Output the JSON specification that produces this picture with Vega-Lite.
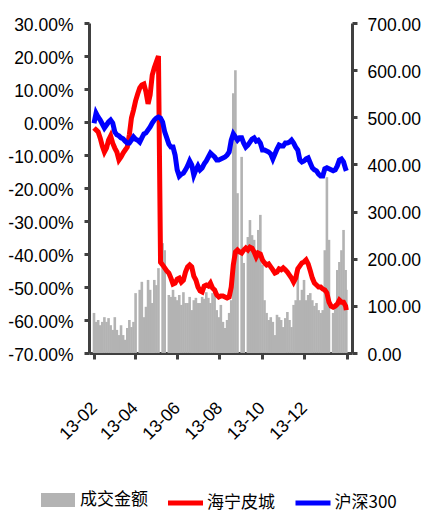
{
  "$schema": "https://vega.github.io/schema/vega-lite/v6.json",
  "autosize": {"type": "none"},
  "padding": {"left": 89, "top": 23, "right": 72, "bottom": 158},
  "width": 263,
  "height": 330,
  "config": {
    "view": {"stroke": null},
    "font": "Liberation Sans",
    "axis": {
      "grid": false,
      "title": null,
      "domainColor": "#404040",
      "domainWidth": 3,
      "tickColor": "#404040",
      "tickWidth": 3,
      "tickSize": 5,
      "labelFont": "Liberation Sans",
      "labelFontSize": 17.5,
      "labelColor": "#000000",
      "labelOverlap": false,
      "labelFlush": false,
      "zindex": 1
    },
    "legend": {
      "labelFont": "Noto Sans CJK SC",
      "labelFontSize": 17,
      "labelColor": "#000000",
      "padding": 0,
      "title": null
    }
  },
  "data": {
    "values": [
      {"date": "2013-02-01", "amt": 85, "海宁皮城": -1.8, "沪深300": -0.4},
      {"date": "2013-02-04", "amt": 66, "海宁皮城": -2.4, "沪深300": 2.7},
      {"date": "2013-02-07", "amt": 70, "海宁皮城": -3.0, "沪深300": 1.5},
      {"date": "2013-02-10", "amt": 59, "海宁皮城": -4.9, "沪深300": 0.6},
      {"date": "2013-02-13", "amt": 66, "海宁皮城": -7.3, "沪深300": -0.6},
      {"date": "2013-02-16", "amt": 76, "海宁皮城": -9.1, "沪深300": -1.8},
      {"date": "2013-02-19", "amt": 66, "海宁皮城": -7.9, "沪深300": -0.9},
      {"date": "2013-02-22", "amt": 74, "海宁皮城": -5.5, "沪深300": 0.0},
      {"date": "2013-02-25", "amt": 59, "海宁皮城": -4.2, "沪深300": 0.6},
      {"date": "2013-02-28", "amt": 49, "海宁皮城": -6.4, "沪深300": -0.3},
      {"date": "2013-03-03", "amt": 76, "海宁皮城": -7.9, "沪深300": -3.0},
      {"date": "2013-03-06", "amt": 49, "海宁皮城": -9.1, "沪深300": -3.9},
      {"date": "2013-03-09", "amt": 38, "海宁皮城": -11.5, "沪深300": -4.2},
      {"date": "2013-03-12", "amt": 59, "海宁皮城": -10.6, "沪深300": -4.8},
      {"date": "2013-03-15", "amt": 38, "海宁皮城": -9.4, "沪深300": -5.1},
      {"date": "2013-03-18", "amt": 28, "海宁皮城": -8.5, "沪深300": -5.8},
      {"date": "2013-03-21", "amt": 53, "海宁皮城": -7.6, "沪深300": -6.4},
      {"date": "2013-03-24", "amt": 70, "海宁皮城": -3.9, "沪深300": -6.4},
      {"date": "2013-03-27", "amt": 55, "海宁皮城": 1.2, "沪深300": -5.5},
      {"date": "2013-03-30", "amt": 66, "海宁皮城": 3.6, "沪深300": -4.5},
      {"date": "2013-04-02", "amt": 127, "海宁皮城": 6.4, "沪深300": -5.2},
      {"date": "2013-04-05", "amt": 0, "海宁皮城": 8.5, "沪深300": -5.5},
      {"date": "2013-04-08", "amt": 134, "海宁皮城": 10.3, "沪深300": -6.1},
      {"date": "2013-04-11", "amt": 151, "海宁皮城": 11.2, "沪深300": -4.8},
      {"date": "2013-04-14", "amt": 76, "海宁皮城": 11.5, "沪深300": -3.6},
      {"date": "2013-04-17", "amt": 98, "海宁皮城": 9.1, "沪深300": -3.3},
      {"date": "2013-04-20", "amt": 155, "海宁皮城": 5.5, "沪深300": -2.4},
      {"date": "2013-04-23", "amt": 134, "海宁皮城": 8.2, "沪深300": -1.5},
      {"date": "2013-04-26", "amt": 106, "海宁皮城": 14.2, "沪深300": -0.3},
      {"date": "2013-04-29", "amt": 155, "海宁皮城": 16.4, "沪深300": 0.6},
      {"date": "2013-05-02", "amt": 144, "海宁皮城": 18.2, "沪深300": 1.2},
      {"date": "2013-05-05", "amt": 180, "海宁皮城": 20.0, "沪深300": 1.5},
      {"date": "2013-05-08", "amt": 0, "海宁皮城": -42.5, "沪深300": 1.2},
      {"date": "2013-05-11", "amt": 233, "海宁皮城": -43.3, "沪深300": 0.0},
      {"date": "2013-05-14", "amt": 218, "海宁皮城": -44.2, "沪深300": -3.0},
      {"date": "2013-05-17", "amt": 0, "海宁皮城": -45.1, "沪深300": -4.8},
      {"date": "2013-05-20", "amt": 123, "海宁皮城": -45.8, "沪深300": -6.7},
      {"date": "2013-05-23", "amt": 119, "海宁皮城": -47.3, "沪深300": -7.6},
      {"date": "2013-05-26", "amt": 134, "海宁皮城": -49.1, "沪深300": -7.6},
      {"date": "2013-05-29", "amt": 119, "海宁皮城": -48.8, "沪深300": -10.0},
      {"date": "2013-06-01", "amt": 112, "海宁皮城": -47.6, "沪深300": -14.5},
      {"date": "2013-06-04", "amt": 123, "海宁皮城": -47.3, "沪深300": -16.4},
      {"date": "2013-06-07", "amt": 102, "海宁皮城": -48.5, "沪深300": -15.8},
      {"date": "2013-06-10", "amt": 129, "海宁皮城": -47.9, "沪深300": -15.5},
      {"date": "2013-06-13", "amt": 106, "海宁皮城": -45.5, "沪深300": -14.5},
      {"date": "2013-06-16", "amt": 106, "海宁皮城": -43.9, "沪深300": -13.3},
      {"date": "2013-06-19", "amt": 119, "海宁皮城": -43.3, "沪深300": -11.8},
      {"date": "2013-06-22", "amt": 91, "海宁皮城": -43.9, "沪深300": -13.0},
      {"date": "2013-06-25", "amt": 112, "海宁皮城": -46.7, "沪深300": -16.1},
      {"date": "2013-06-28", "amt": 117, "海宁皮城": -47.9, "沪深300": -14.5},
      {"date": "2013-07-01", "amt": 106, "海宁皮城": -50.0, "沪深300": -13.3},
      {"date": "2013-07-04", "amt": 106, "海宁皮城": -51.2, "沪深300": -14.5},
      {"date": "2013-07-07", "amt": 119, "海宁皮城": -51.5, "沪深300": -13.9},
      {"date": "2013-07-10", "amt": 115, "海宁皮城": -49.7, "沪深300": -12.7},
      {"date": "2013-07-13", "amt": 129, "海宁皮城": -49.4, "沪深300": -11.8},
      {"date": "2013-07-16", "amt": 117, "海宁皮城": -49.7, "沪深300": -10.6},
      {"date": "2013-07-19", "amt": 106, "海宁皮城": -48.8, "沪深300": -9.4},
      {"date": "2013-07-22", "amt": 127, "海宁皮城": -50.3, "沪深300": -10.0},
      {"date": "2013-07-25", "amt": 134, "海宁皮城": -50.9, "沪深300": -10.6},
      {"date": "2013-07-28", "amt": 91, "海宁皮城": -52.4, "沪深300": -11.5},
      {"date": "2013-07-31", "amt": 76, "海宁皮城": -53.0, "沪深300": -11.5},
      {"date": "2013-08-03", "amt": 102, "海宁皮城": -52.7, "沪深300": -11.2},
      {"date": "2013-08-06", "amt": 66, "海宁皮城": -52.7, "沪深300": -10.9},
      {"date": "2013-08-09", "amt": 53, "海宁皮城": -53.0, "沪深300": -10.6},
      {"date": "2013-08-12", "amt": 70, "海宁皮城": -53.3, "沪深300": -10.0},
      {"date": "2013-08-15", "amt": 85, "海宁皮城": -53.0, "沪深300": -9.1},
      {"date": "2013-08-18", "amt": 112, "海宁皮城": -50.0, "沪深300": -5.5},
      {"date": "2013-08-21", "amt": 551, "海宁皮城": -43.3, "沪深300": -3.6},
      {"date": "2013-08-24", "amt": 600, "海宁皮城": -39.4, "沪深300": -4.5},
      {"date": "2013-08-27", "amt": 339, "海宁皮城": -38.8, "沪深300": -5.5},
      {"date": "2013-08-30", "amt": 0, "海宁皮城": -39.4, "沪深300": -4.8},
      {"date": "2013-09-02", "amt": 416, "海宁皮城": -39.7, "沪深300": -4.8},
      {"date": "2013-09-05", "amt": 191, "海宁皮城": -38.8, "沪深300": -6.4},
      {"date": "2013-09-08", "amt": 0, "海宁皮城": -38.2, "沪深300": -7.6},
      {"date": "2013-09-11", "amt": 246, "海宁皮城": -38.8, "沪深300": -7.0},
      {"date": "2013-09-14", "amt": 282, "海宁皮城": -37.9, "沪深300": -6.1},
      {"date": "2013-09-17", "amt": 250, "海宁皮城": -38.2, "沪深300": -5.2},
      {"date": "2013-09-20", "amt": 240, "海宁皮城": -39.4, "沪深300": -4.8},
      {"date": "2013-09-23", "amt": 218, "海宁皮城": -40.9, "沪深300": -5.8},
      {"date": "2013-09-26", "amt": 261, "海宁皮城": -39.7, "沪深300": -5.5},
      {"date": "2013-09-29", "amt": 293, "海宁皮城": -40.0, "沪深300": -6.4},
      {"date": "2013-10-02", "amt": 187, "海宁皮城": -41.8, "沪深300": -8.5},
      {"date": "2013-10-05", "amt": 112, "海宁皮城": -42.7, "沪深300": -8.5},
      {"date": "2013-10-08", "amt": 85, "海宁皮城": -43.3, "沪深300": -8.8},
      {"date": "2013-10-11", "amt": 70, "海宁皮城": -43.0, "沪深300": -9.1},
      {"date": "2013-10-14", "amt": 76, "海宁皮城": -43.9, "沪深300": -9.7},
      {"date": "2013-10-17", "amt": 66, "海宁皮城": -44.8, "沪深300": -11.2},
      {"date": "2013-10-20", "amt": 38, "海宁皮城": -45.8, "沪深300": -9.7},
      {"date": "2013-10-23", "amt": 81, "海宁皮城": -45.5, "沪深300": -8.2},
      {"date": "2013-10-26", "amt": 76, "海宁皮城": -44.5, "沪深300": -7.0},
      {"date": "2013-10-29", "amt": 70, "海宁皮城": -44.8, "沪深300": -7.3},
      {"date": "2013-11-01", "amt": 55, "海宁皮城": -44.2, "沪深300": -7.3},
      {"date": "2013-11-04", "amt": 74, "海宁皮城": -44.8, "沪深300": -6.4},
      {"date": "2013-11-07", "amt": 87, "海宁皮城": -45.5, "沪深300": -6.4},
      {"date": "2013-11-10", "amt": 70, "海宁皮城": -46.4, "沪深300": -6.1},
      {"date": "2013-11-13", "amt": 55, "海宁皮城": -47.3, "沪深300": -5.5},
      {"date": "2013-11-16", "amt": 102, "海宁皮城": -48.5, "沪深300": -6.4},
      {"date": "2013-11-19", "amt": 112, "海宁皮城": -47.3, "沪深300": -7.6},
      {"date": "2013-11-22", "amt": 176, "海宁皮城": -44.5, "沪深300": -8.5},
      {"date": "2013-11-25", "amt": 112, "海宁皮城": -43.6, "沪深300": -11.5},
      {"date": "2013-11-28", "amt": 134, "海宁皮城": -42.7, "沪深300": -12.1},
      {"date": "2013-12-01", "amt": 155, "海宁皮城": -42.4, "沪深300": -11.8},
      {"date": "2013-12-04", "amt": 112, "海宁皮城": -41.8, "沪深300": -11.2},
      {"date": "2013-12-07", "amt": 123, "海宁皮城": -43.0, "沪深300": -10.9},
      {"date": "2013-12-10", "amt": 127, "海宁皮城": -45.1, "沪深300": -12.4},
      {"date": "2013-12-13", "amt": 112, "海宁皮城": -47.3, "沪深300": -13.9},
      {"date": "2013-12-16", "amt": 100, "海宁皮城": -48.8, "沪深300": -14.5},
      {"date": "2013-12-19", "amt": 106, "海宁皮城": -49.4, "沪深300": -14.8},
      {"date": "2013-12-22", "amt": 91, "海宁皮城": -50.0, "沪深300": -15.8},
      {"date": "2013-12-25", "amt": 85, "海宁皮城": -50.0, "沪深300": -16.4},
      {"date": "2013-12-28", "amt": 91, "海宁皮城": -50.6, "沪深300": -16.4},
      {"date": "2013-12-31", "amt": 218, "海宁皮城": -50.9, "沪深300": -14.2},
      {"date": "2014-01-03", "amt": 373, "海宁皮城": -51.8, "沪深300": -13.9},
      {"date": "2014-01-06", "amt": 240, "海宁皮城": -54.6, "沪深300": -14.2},
      {"date": "2014-01-09", "amt": 0, "海宁皮城": -55.8, "沪深300": -14.5},
      {"date": "2014-01-12", "amt": 85, "海宁皮城": -56.1, "沪深300": -14.8},
      {"date": "2014-01-15", "amt": 106, "海宁皮城": -55.8, "沪深300": -14.5},
      {"date": "2014-01-18", "amt": 176, "海宁皮城": -55.2, "沪深300": -13.3},
      {"date": "2014-01-21", "amt": 193, "海宁皮城": -54.0, "沪深300": -11.5},
      {"date": "2014-01-24", "amt": 218, "海宁皮城": -54.6, "沪深300": -11.2},
      {"date": "2014-01-27", "amt": 261, "海宁皮城": -54.6, "沪深300": -12.1},
      {"date": "2014-01-30", "amt": 176, "海宁皮城": -55.8, "沪深300": -14.2},
      {"date": "2014-01-31", "amt": 134, "海宁皮城": -57.0, "沪深300": -14.8}
    ]
  },
  "encoding": {
    "x": {
      "field": "date",
      "type": "temporal",
      "scale": {
        "type": "utc",
        "domain": [
          {"year": 2013, "month": 2, "date": 1, "utc": true},
          {"year": 2014, "month": 2, "date": 1, "utc": true}
        ]
      },
      "axis": {
        "values": [
          {"year": 2013, "month": 2, "date": 1, "utc": true},
          {"year": 2013, "month": 4, "date": 1, "utc": true},
          {"year": 2013, "month": 6, "date": 1, "utc": true},
          {"year": 2013, "month": 8, "date": 1, "utc": true},
          {"year": 2013, "month": 10, "date": 1, "utc": true},
          {"year": 2013, "month": 12, "date": 1, "utc": true},
          {"year": 2014, "month": 2, "date": 1, "utc": true}
        ],
        "labelExpr": "datum.value > utc(2014,0,1) ? '' : utcFormat(datum.value, '%y-%m')",
        "labelAngle": -45,
        "labelAlign": "right",
        "labelBaseline": "middle",
        "labelPadding": 46,
        "labelOverlap": false,
        "tickSize": 6
      }
    }
  },
  "layer": [
    {
      "mark": {"type": "bar", "width": 2.6, "clip": true},
      "encoding": {
        "y": {
          "field": "amt",
          "type": "quantitative",
          "scale": {"domain": [0, 700], "nice": false},
          "axis": {
            "orient": "right",
            "values": [0, 100, 200, 300, 400, 500, 600, 700],
            "format": ".2f",
            "labelPadding": 10,
            "labelOffset": 2,
            "labelOverlap": false,
            "tickSize": 5
          }
        },
        "fill": {
          "datum": "成交金额",
          "scale": {"domain": ["成交金额"], "range": ["#b3b3b3"]},
          "legend": {
            "orient": "none",
            "legendX": -48,
            "legendY": 460,
            "symbolType": "M-1,-0.41H1V0.41H-1Z",
            "symbolSize": 1156,
            "symbolStrokeWidth": 0,
            "labelOffset": 5
          }
        }
      }
    },
    {
      "transform": [
        {"fold": ["海宁皮城", "沪深300"], "as": ["series", "pct"]}
      ],
      "mark": {"type": "line", "strokeWidth": 5},
      "encoding": {
        "y": {
          "field": "pct",
          "type": "quantitative",
          "scale": {"domain": [-70, 30], "nice": false},
          "axis": {
            "orient": "left",
            "values": [-70, -60, -50, -40, -30, -20, -10, 0, 10, 20, 30],
            "labelExpr": "(datum.value < 0 ? '-' : '') + format(abs(datum.value), '.2f') + '%'",
            "labelPadding": 11,
            "labelOffset": 2,
            "labelOverlap": false,
            "labelSeparation": 0,
            "tickSize": 5
          }
        },
        "stroke": {
          "field": "series",
          "type": "nominal",
          "scale": {"domain": ["海宁皮城", "沪深300"], "range": ["#ff0000", "#0000ff"]},
          "legend": {
            "orient": "none",
            "direction": "horizontal",
            "legendX": 76.5,
            "legendY": 460,
            "symbolType": "stroke",
            "symbolSize": 1225,
            "symbolStrokeWidth": 5,
            "labelOffset": 1.5,
            "columnPadding": 9.5
          }
        }
      }
    }
  ],
  "resolve": {"scale": {"y": "independent"}}
}
